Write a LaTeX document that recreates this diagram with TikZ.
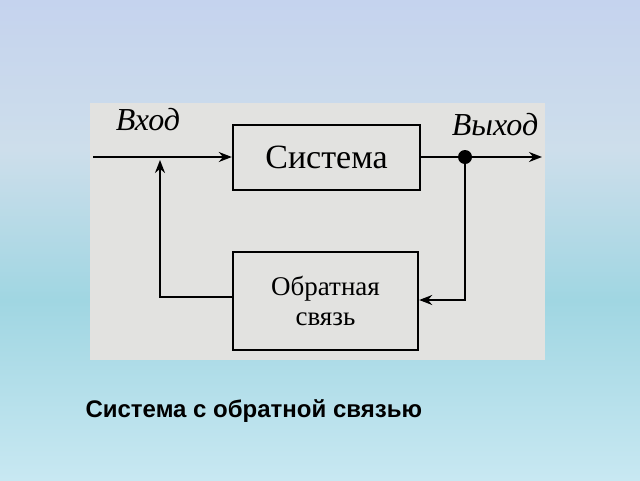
\documentclass[tikz,border=0pt]{standalone}
\usepackage{fontspec}
\setmainfont{Liberation Serif}
\newfontfamily\capfont{Liberation Sans}
\usetikzlibrary{arrows.meta}
\definecolor{bgtop}{RGB}{197,211,238}
\definecolor{bgmid}{RGB}{205,222,235}
\definecolor{bglow}{RGB}{160,214,226}
\definecolor{bgbot}{RGB}{200,232,242}
\definecolor{scan}{RGB}{226,226,224}
\begin{document}
\begin{tikzpicture}[x=1pt,y=-1pt,
  blk/.style={draw,line width=2.4pt,fill=scan,align=center,font=\fontsize{34}{34}\selectfont},
  wire/.style={line width=1.8pt},
  arr/.style={wire,-{Stealth[length=13pt,width=10pt]}},
  lab/.style={font=\itshape\fontsize{32}{32}\selectfont}]
\useasboundingbox (0,0) rectangle (640,480);
\shade[top color=bgtop,bottom color=bglow,middle color=bgmid] (0,0) rectangle (640,300);
\shade[top color=bglow,bottom color=bgbot] (0,300) rectangle (640,480);
\fill[scan] (90,103) rectangle (545,360);
\node[blk,minimum width=187pt,minimum height=65pt] (sys) at (326.5,157.5) {Система};
\node[blk,minimum width=185pt,minimum height=98pt,font=\fontsize{27}{30}\selectfont] (fb) at (325.5,301) {Обратная\\связь};
\coordinate (in) at (93,157);
\coordinate (d) at (465,157);
\coordinate (out) at (542,157);
\draw[arr] (in) -- (sys.west |- in);
\draw[arr] (fb.west |- 0,297) -| (160,160);
\draw[arr] (sys.east |- d) -- (out);
\fill (d) circle (7pt);
\draw[arr] (d) |- (fb.east |- 0,300);
\node[lab] (vx) at (148,120) {Вход};
\node[lab] (vyx) at (495,125) {Выход};
\node[anchor=west,font=\capfont\bfseries\fontsize{24}{24}\selectfont] (cap) at (82,411) {Система с обратной связью};
\end{tikzpicture}
\end{document}
